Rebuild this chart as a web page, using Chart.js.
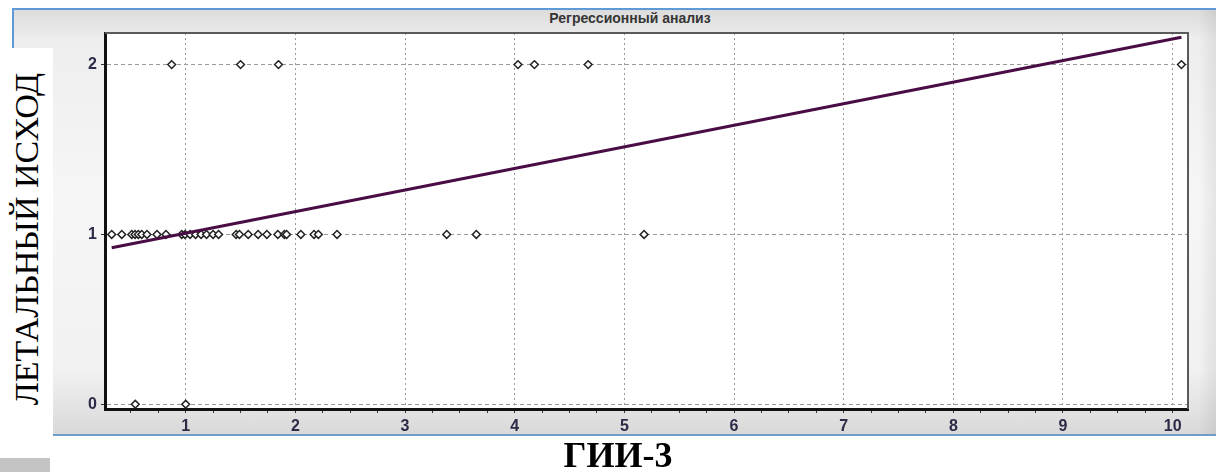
<!DOCTYPE html>
<html lang="ru">
<head>
<meta charset="utf-8">
<title>Регрессионный анализ</title>
<script src="https://cdn.jsdelivr.net/npm/chart.js@4/dist/chart.umd.min.js"></script>
<style>
  html, body { margin: 0; padding: 0; background: #ffffff; }
  body { width: 1216px; height: 472px; position: relative; overflow: hidden; }
  #frame {
    position: absolute; left: 12px; top: 8px; width: 1210px; height: 424px;
    border-top: 2px solid #5e9ad6; border-left: 2px solid #5e9ad6; border-bottom: 2px solid #6f9cc6;
    background: linear-gradient(to bottom, #dcdcdc 0%, #eeeeee 7%, #f6f6f6 45%, #f1f1f1 85%, #d9d9d9 100%);
  }
  #frame::after {
    content: ""; position: absolute; right: 0; top: 0; width: 26px; height: 100%;
    background: linear-gradient(to right, rgba(0,0,0,0) 0%, rgba(0,0,0,0.10) 100%);
  }
  #title {
    position: absolute; left: 430px; width: 400px; top: 10px; text-align: center;
    font: bold 14px "Liberation Sans", Arial, sans-serif; color: #353535;
  }
  #ylabelBox { position: absolute; left: 0; top: 48px; width: 53px; height: 410px; background: #ffffff; }
  #ylabel {
    position: absolute; left: 27px; top: 239px; transform: translate(-50%, -50%) rotate(-90deg);
    white-space: nowrap; font: 34px "Liberation Serif", "Times New Roman", serif; color: #000;
  }
  #grayTab { position: absolute; left: 0; top: 458px; width: 50px; height: 14px; background: #c4c4c4; }
  #xlabel {
    position: absolute; left: 518px; width: 200px; top: 437px; text-align: center;
    font: bold 36px "Liberation Serif", "Times New Roman", serif; color: #000; line-height: 36px;
  }
  canvas { position: absolute; left: 0; top: 0; }
</style>
</head>
<body>
<div id="frame"></div>
<div id="title">Регрессионный анализ</div>
<canvas id="chart" width="1216" height="472"></canvas>
<div id="ylabelBox"></div>
<div id="ylabel">ЛЕТАЛЬНЫЙ ИСХОД</div>
<div id="grayTab"></div>
<div id="xlabel">ГИИ-3</div>
<script>
// Observations: GII-3 value and outcome code (0, 1, 2)
const outcome1X = [0.325, 0.417, 0.508, 0.538, 0.568, 0.599, 0.647, 0.738, 0.82, 0.964,
                   0.994, 1.04, 1.09, 1.14, 1.19, 1.25, 1.30, 1.46, 1.49, 1.57,
                   1.66, 1.74, 1.84, 1.90, 1.92, 2.05, 2.17, 2.21, 2.38, 3.38,
                   3.65, 5.18];
const outcome2X = [0.872, 1.50, 1.846, 4.03, 4.18, 4.67, 10.08];
const outcome0X = [0.54, 1.0];

// Fitted regression line, endpoints at the data range
const fitX = [0.325, 10.08];
const fitY = [0.921, 2.161];

// Axis setup
const xMajorTicks = [1, 2, 3, 4, 5, 6, 7, 8, 9, 10];
const yTicks = [0, 1, 2];
const xRange = [0.264, 10.14];
const yRange = [-0.028, 2.186];

const points = [];
outcome1X.forEach(x => points.push({ x: x, y: 1 }));
outcome2X.forEach(x => points.push({ x: x, y: 2 }));
outcome0X.forEach(x => points.push({ x: x, y: 0 }));
const fitLine = fitX.map((x, i) => ({ x: x, y: fitY[i] }));

// quarter-step minor marks on the x axis
const xAllTicks = [0.5, 0.75];
xMajorTicks.forEach((v, i) => {
  xAllTicks.push(v);
  if (i < xMajorTicks.length - 1) xAllTicks.push(v + 0.25, v + 0.5, v + 0.75);
});

const isWhole = v => Math.abs(v - Math.round(v)) < 1e-6;

const plotFrame = {
  id: 'plotFrame',
  beforeDraw(chart) {
    const { ctx, chartArea: a } = chart;
    ctx.save();
    ctx.fillStyle = '#ffffff';
    ctx.fillRect(a.left, a.top, a.right - a.left, a.bottom - a.top);
    ctx.restore();
  },
  afterDatasetsDraw(chart) {
    const { ctx, chartArea: a } = chart;
    ctx.save();
    ctx.strokeStyle = '#5a5a5a';
    ctx.lineWidth = 2;
    ctx.beginPath();
    ctx.moveTo(a.left, a.top);
    ctx.lineTo(a.right, a.top);
    ctx.lineTo(a.right, a.bottom);
    ctx.stroke();
    ctx.restore();
  }
};

const tickFont = { family: '"Liberation Sans", Arial, sans-serif', size: 16, weight: 'bold' };

new Chart(document.getElementById('chart'), {
  type: 'scatter',
  data: {
    datasets: [
      {
        label: 'Регрессия',
        data: fitLine,
        showLine: true,
        borderColor: '#4a0c44',
        borderWidth: 3,
        pointRadius: 0,
        fill: false
      },
      {
        label: 'Наблюдения',
        data: points,
        pointStyle: 'rectRot',
        pointRadius: 3.9,
        pointBorderWidth: 1.5,
        pointBorderColor: '#222222',
        pointBackgroundColor: '#ffffff'
      }
    ]
  },
  options: {
    responsive: false,
    animation: false,
    devicePixelRatio: 1,
    layout: { padding: { left: 75, top: 33, right: 28, bottom: 33 } },
    plugins: { legend: { display: false }, tooltip: { enabled: false }, title: { display: false } },
    scales: {
      x: {
        type: 'linear',
        min: xRange[0],
        max: xRange[1],
        afterBuildTicks: s => { s.ticks = xAllTicks.map(v => ({ value: v })); },
        afterFit: s => { s.height = 30; },
        ticks: {
          autoSkip: false,
          maxRotation: 0,
          padding: 4,
          color: '#2b2b48',
          font: tickFont,
          callback: v => (isWhole(v) ? String(Math.round(v)) : '')
        },
        grid: {
          color: c => (c.tick && isWhole(c.tick.value) ? '#9a9a9a' : 'rgba(0,0,0,0)'),
          lineWidth: 1,
          drawTicks: true,
          tickLength: 4,
          tickColor: '#333333'
        },
        border: { display: true, color: '#111111', width: 3, dash: [2, 3] }
      },
      y: {
        type: 'linear',
        min: yRange[0],
        max: yRange[1],
        afterBuildTicks: s => { s.ticks = yTicks.map(v => ({ value: v })); },
        afterFit: s => { s.width = 30; },
        ticks: {
          padding: 4,
          color: '#2b2b48',
          font: tickFont,
          callback: v => String(v)
        },
        grid: {
          color: '#9a9a9a',
          lineWidth: 1,
          drawTicks: true,
          tickLength: 4,
          tickColor: '#333333'
        },
        border: { display: true, color: '#111111', width: 3, dash: [4, 3] }
      }
    }
  },
  plugins: [plotFrame]
});
</script>
</body>
</html>
